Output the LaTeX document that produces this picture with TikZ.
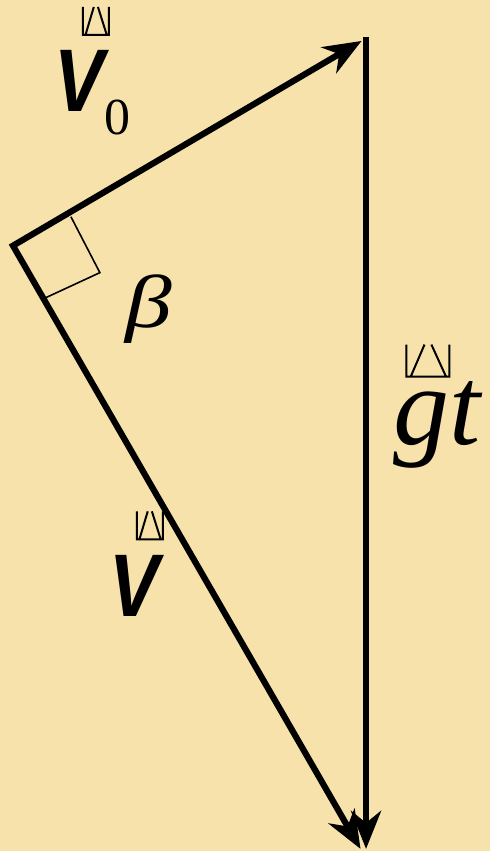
\documentclass[tikz,border=0pt]{standalone}
\usepackage{fontspec}
\setmainfont{Liberation Serif}
\newfontfamily\arialfont{Liberation Sans}
\usetikzlibrary{arrows.meta}
\definecolor{paper}{RGB}{246,226,170}

\tikzset{
  tip/.tip={Stealth[length=38pt,width=30pt,inset=12pt]},
  vec/.style={line width=6.2pt, line join=miter},
  bigV/.style={font=\arialfont\bfseries\itshape\fontsize{89}{89}\selectfont, xscale=0.84, transform shape},
  vecbox/.pic={\draw[line width=2pt] (0,0)--(0,1)--(1,1)--(1,0) (0.1,1)--(0.42,0) (0.92,1)--(0.58,0);}
}

\begin{document}
\begin{tikzpicture}[x=1pt, y=-1pt, every node/.style={inner sep=0pt}]
    \fill[paper] (0,0) rectangle (491,852);
    % corners of the triangle
    \coordinate (A) at (13,246);
    \coordinate (B) at (362,41);
    \coordinate (T) at (366.5,37);
    \coordinate (C) at (366.5,850);
    \coordinate (D) at (361,850);
    \draw[vec, tip-tip] (B) -- (A) -- (D);
    \draw[vec, -tip] (T) -- (C);
    % right angle at A
    \draw[line width=1.6pt] (71,217) -- (100,273) -- (46,298);
    % labels
    \node (v0) at (54,112) [anchor=base west, bigV] {V};
    \node (sub) at (104,135) [anchor=base west, font=\fontsize{52}{52}\selectfont] {0};
    \node (beta) at (149,309) [font=\itshape\fontsize{75}{75}\selectfont, xscale=1.25, transform shape] {β};
    \node (gt) at (438,425) [font=\itshape\fontsize{112}{112}\selectfont] {gt};
    \node (v) at (109,617) [anchor=base west, bigV] {V};
    \pic (v0mark) [xscale=26, yscale=28] at (83,7) {vecbox};
    \pic (gtmark) [xscale=43, yscale=32] at (407,345) {vecbox};
    \pic (vmark) [xscale=26, yscale=28] at (137,512) {vecbox};
\end{tikzpicture}
\end{document}
